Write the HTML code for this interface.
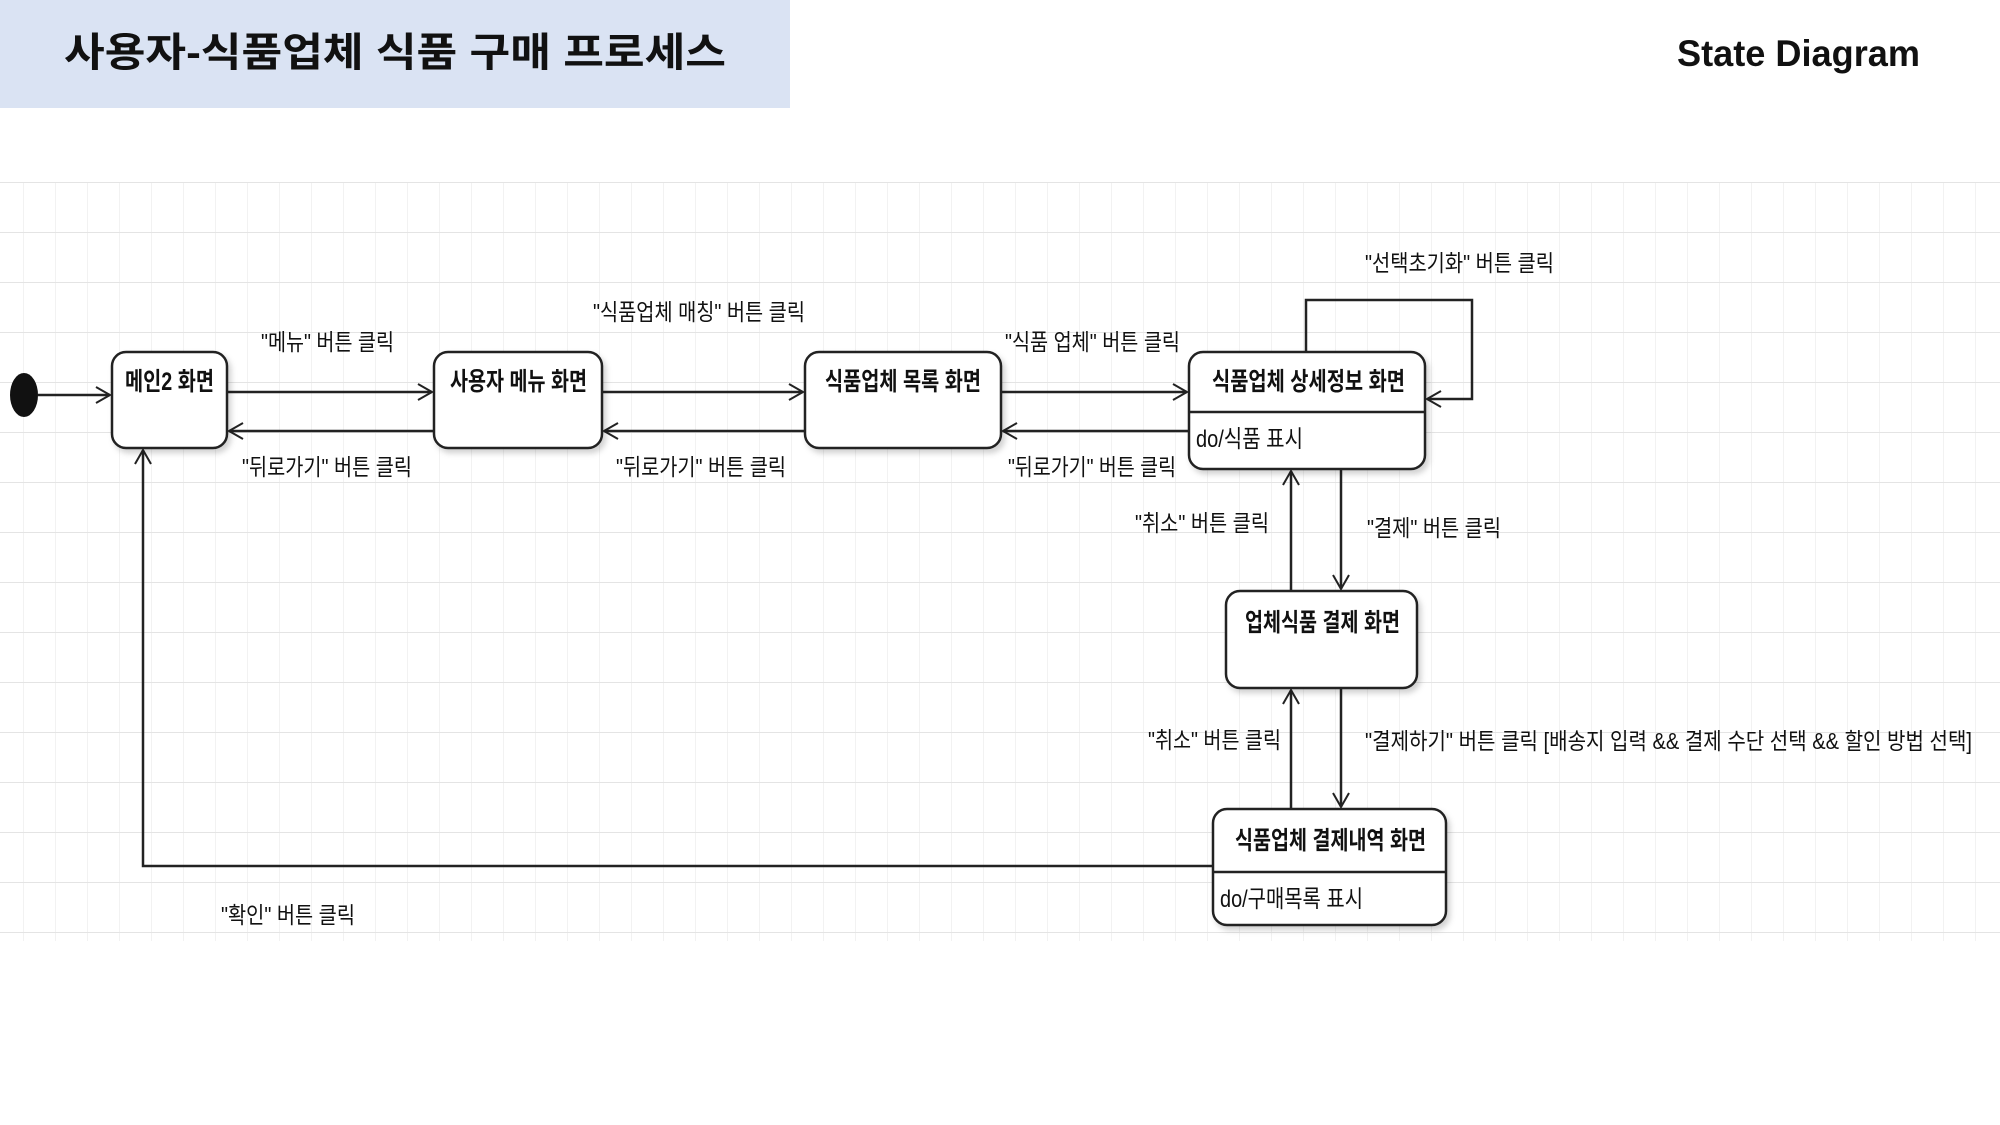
<!DOCTYPE html>
<html><head><meta charset="utf-8"><style>
html,body{margin:0;padding:0;background:#fff;}
svg{display:block;}
text{font-family:"Liberation Sans","Noto Sans CJK KR",sans-serif;fill:#111;}
</style></head><body>
<svg width="2000" height="1125" viewBox="0 0 2000 1125" xmlns="http://www.w3.org/2000/svg">
<defs>
<pattern id="g" width="32" height="50" patternUnits="userSpaceOnUse" x="24" y="133">
<path d="M32 0V50" stroke="#eeeeee" stroke-width="1.5" fill="none"/>
<path d="M0 50H32" stroke="#e4e4e4" stroke-width="2" fill="none"/>
</pattern>
<marker id="a" markerWidth="20" markerHeight="20" refX="16" refY="10" orient="auto" markerUnits="userSpaceOnUse">
<path d="M2 2L16 10L2 18" fill="none" stroke="#222" stroke-width="2"/>
</marker>
<filter id="s" x="-10%" y="-10%" width="130%" height="130%"><feDropShadow dx="3" dy="4" stdDeviation="3" flood-color="#000" flood-opacity="0.18"/></filter>
</defs>
<rect x="0" y="0" width="790" height="108" fill="#dae3f3"/>
<text x="64" y="66" font-size="40" font-weight="bold" textLength="662" lengthAdjust="spacingAndGlyphs">사용자-식품업체 식품 구매 프로세스</text>
<text x="1677" y="66" font-size="37" font-weight="bold" textLength="243" lengthAdjust="spacingAndGlyphs">State Diagram</text>
<rect x="0" y="182" width="2000" height="759" fill="url(#g)"/>

<g stroke="#222" stroke-width="2.5" fill="none">
<line x1="38" y1="395" x2="110" y2="395" marker-end="url(#a)"/>
<line x1="227" y1="392" x2="432" y2="392" marker-end="url(#a)"/>
<line x1="434" y1="431" x2="229" y2="431" marker-end="url(#a)"/>
<line x1="602" y1="392" x2="803" y2="392" marker-end="url(#a)"/>
<line x1="805" y1="431" x2="604" y2="431" marker-end="url(#a)"/>
<line x1="1001" y1="392" x2="1187" y2="392" marker-end="url(#a)"/>
<line x1="1189" y1="431" x2="1003" y2="431" marker-end="url(#a)"/>
<polyline points="1306,352 1306,300 1472,300 1472,399 1427,399" marker-end="url(#a)"/>
<line x1="1291" y1="591" x2="1291" y2="471" marker-end="url(#a)"/>
<line x1="1341" y1="469" x2="1341" y2="589" marker-end="url(#a)"/>
<line x1="1291" y1="809" x2="1291" y2="690" marker-end="url(#a)"/>
<line x1="1341" y1="688" x2="1341" y2="807" marker-end="url(#a)"/>
<polyline points="1213,866 143,866 143,450" marker-end="url(#a)"/>
</g>
<ellipse cx="24" cy="395" rx="14" ry="22" fill="#111"/>

<g fill="#fff" stroke="#222" stroke-width="2.5" filter="url(#s)">
<rect x="112" y="352" width="115" height="96" rx="14"/>
<rect x="434" y="352" width="168" height="96" rx="14"/>
<rect x="805" y="352" width="196" height="96" rx="14"/>
<rect x="1189" y="352" width="236" height="117" rx="14"/>
<rect x="1226" y="591" width="191" height="97" rx="14"/>
<rect x="1213" y="809" width="233" height="116" rx="14"/>
</g>
<g stroke="#222" stroke-width="2.5">
<line x1="1189" y1="412" x2="1425" y2="412"/>
<line x1="1213" y1="872" x2="1446" y2="872"/>
</g>

<g font-size="25" font-weight="bold">
<text x="125" y="390" textLength="89" lengthAdjust="spacingAndGlyphs">메인2 화면</text>
<text x="450" y="390" textLength="137" lengthAdjust="spacingAndGlyphs">사용자 메뉴 화면</text>
<text x="825" y="390" textLength="156" lengthAdjust="spacingAndGlyphs">식품업체 목록 화면</text>
<text x="1212" y="390" textLength="193" lengthAdjust="spacingAndGlyphs">식품업체 상세정보 화면</text>
<text x="1245" y="631" textLength="155" lengthAdjust="spacingAndGlyphs">업체식품 결제 화면</text>
<text x="1235" y="849" textLength="191" lengthAdjust="spacingAndGlyphs">식품업체 결제내역 화면</text>
</g>
<g font-size="24">
<text x="1196" y="447" textLength="107" lengthAdjust="spacingAndGlyphs">do/식품 표시</text>
<text x="1220" y="907" textLength="143" lengthAdjust="spacingAndGlyphs">do/구매목록 표시</text>
</g>
<g font-size="23">
<text x="261" y="350" textLength="133" lengthAdjust="spacingAndGlyphs">"메뉴" 버튼 클릭</text>
<text x="242" y="475" textLength="170" lengthAdjust="spacingAndGlyphs">"뒤로가기" 버튼 클릭</text>
<text x="593" y="320" textLength="212" lengthAdjust="spacingAndGlyphs">"식품업체 매칭" 버튼 클릭</text>
<text x="616" y="475" textLength="170" lengthAdjust="spacingAndGlyphs">"뒤로가기" 버튼 클릭</text>
<text x="1005" y="350" textLength="175" lengthAdjust="spacingAndGlyphs">"식품 업체" 버튼 클릭</text>
<text x="1008" y="475" textLength="168" lengthAdjust="spacingAndGlyphs">"뒤로가기" 버튼 클릭</text>
<text x="1365" y="271" textLength="189" lengthAdjust="spacingAndGlyphs">"선택초기화" 버튼 클릭</text>
<text x="1135" y="531" textLength="134" lengthAdjust="spacingAndGlyphs">"취소" 버튼 클릭</text>
<text x="1367" y="536" textLength="134" lengthAdjust="spacingAndGlyphs">"결제" 버튼 클릭</text>
<text x="1148" y="748" textLength="133" lengthAdjust="spacingAndGlyphs">"취소" 버튼 클릭</text>
<text x="1365" y="749" textLength="607" lengthAdjust="spacingAndGlyphs">"결제하기" 버튼 클릭 [배송지 입력 &amp;&amp; 결제 수단 선택 &amp;&amp;  할인 방법 선택]</text>
<text x="221" y="923" textLength="134" lengthAdjust="spacingAndGlyphs">"확인" 버튼 클릭</text>
</g>
</svg>
</body></html>
